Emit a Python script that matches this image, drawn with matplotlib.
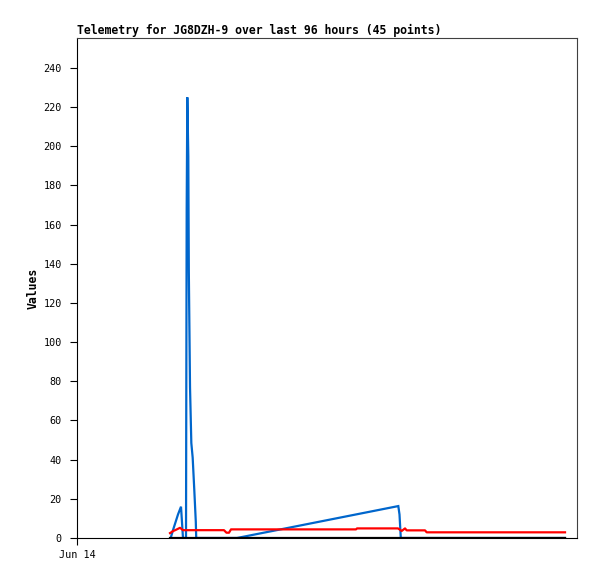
import matplotlib
matplotlib.use("Agg")
import matplotlib.pyplot as plt

# hours since Jun 14 00:00
blue_t = [17.99, 18.43, 18.91, 19.39, 19.97, 20.35, 20.93, 20.97, 21.06, 21.18,
          21.37, 21.47, 21.70, 21.95, 22.21, 22.52, 22.81, 22.89, 30.72, 61.69,
          61.92, 62.17, 93.70]
blue_v = [0, 4, 8, 12, 16, 0, 0, 56, 168, 225,
          195, 136, 77, 48.5, 41, 24.5, 8.2, 0, 0, 16.3,
          12, 0, 0]

red_t = [17.86, 18.43, 19.01, 19.78, 20.35, 28.22, 28.70, 29.18, 29.57, 53.57,
         53.76, 61.63, 62.02, 62.34, 62.98, 63.30, 66.82, 67.14, 93.70]
red_v = [2.5, 3.5, 4.2, 5.2, 4.0, 4.0, 2.7, 2.7, 4.4, 4.4,
         4.9, 4.9, 4.2, 3.6, 4.9, 3.9, 3.9, 2.9, 2.9]

black_t = [17.86, 93.70]
black_v = [0, 0]

yticks = list(range(0, 241, 20))
xtick_pos = [0]
xtick_lab = ["Jun 14"]

mono = "DejaVu Sans Mono"

fig = plt.figure(figsize=(5.97, 5.79), dpi=100)
ax = fig.add_axes([77/597, 1 - 538/579, 500/597, 500/579])

ax.plot(blue_t, blue_v, color="#0066cc", lw=1.6, solid_joinstyle="miter")
ax.plot(red_t, red_v, color="#ff0000", lw=1.6)
ax.plot(black_t, black_v, color="#000000", lw=1.6)

ax.set_xlim(0, 96)
ax.set_ylim(0, 255.3)
ax.set_yticks(yticks)
ax.set_yticklabels([str(v) for v in yticks], family=mono, fontsize=7.3)
ax.set_xticks(xtick_pos)
ax.set_xticklabels(xtick_lab, family=mono, fontsize=7.3)
ax.tick_params(axis="y", direction="out", length=5, width=0.8, pad=6)
ax.tick_params(axis="x", direction="out", length=5, width=0.8, pad=3.5)

for s in ["top", "right"]:
    ax.spines[s].set_color("#404040")
    ax.spines[s].set_linewidth(0.8)
for s in ["left", "bottom"]:
    ax.spines[s].set_color("#000000")
    ax.spines[s].set_linewidth(0.8)

ax.set_title("Telemetry for JG8DZH-9 over last 96 hours (45 points)",
             loc="left", family=mono, fontweight="bold", fontsize=8.3, pad=3)
ax.set_ylabel("Values", family=mono, fontweight="bold", fontsize=8.3, labelpad=3)

fig.savefig("out.png", dpi=100)
